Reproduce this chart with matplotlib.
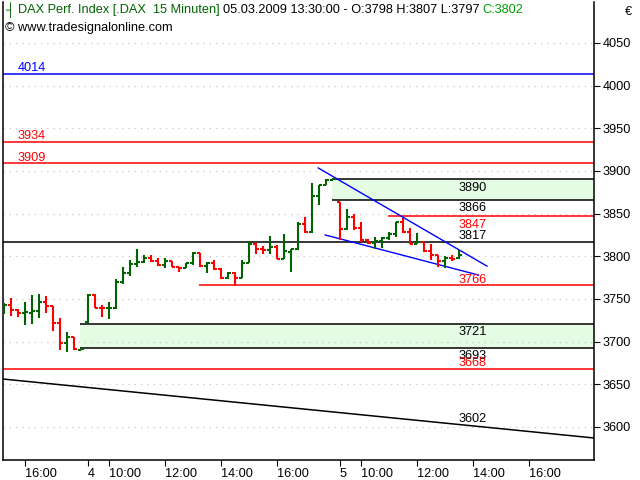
import matplotlib.pyplot as plt
import numpy as np

plt.rcParams['font.family'] = ['Liberation Sans', 'DejaVu Sans']

#----------------------------------------------------
# DAX 15 minute bars, 03.03 15:15 -> 05.03 13:30
#----------------------------------------------------
opens  = [3739, 3743, 3737, 3733, 3733, 3736, 3747, 3742, 3722, 3698, 3705, 3690.5,
          3723, 3755, 3740, 3739, 3740, 3770, 3780, 3791, 3793, 3798, 3794, 3790,
          3795, 3788, 3786, 3792, 3804, 3789, 3792, 3785, 3774, 3780, 3775, 3792,
          3815, 3809, 3807, 3811, 3797, 3805, 3808, 3838, 3829, 3871, 3883, 3889,
          3864, 3832, 3846, 3833, 3819, 3816, 3818, 3821, 3826, 3840, 3829, 3815,
          3817, 3806, 3801, 3794, 3798, 3798]
highs  = [3745, 3751, 3738, 3746, 3755, 3756, 3754, 3742, 3728, 3711, 3705, 3691,
          3756, 3756, 3743, 3747, 3773, 3788, 3796, 3809, 3801, 3801, 3798, 3798,
          3795, 3788, 3792, 3805, 3804, 3793, 3796, 3786, 3782, 3782, 3796, 3818,
          3816, 3812, 3824, 3813, 3826, 3808, 3840, 3846, 3886, 3884, 3890, 3890,
          3864, 3855, 3850, 3840, 3820, 3823, 3823, 3829, 3840, 3845, 3833, 3827,
          3817, 3814, 3802, 3800, 3802, 3807]
lows   = [3732, 3730, 3729, 3720, 3721, 3728, 3733, 3712, 3690, 3688, 3690, 3690,
          3722, 3739, 3729, 3727, 3738, 3767, 3777, 3787, 3792, 3793, 3789, 3786,
          3787, 3782, 3786, 3790, 3788, 3780, 3784, 3773, 3773, 3765, 3775, 3792,
          3803, 3803, 3803, 3797, 3797, 3782, 3807, 3827, 3827, 3860, 3883, 3889,
          3819, 3831, 3831, 3817, 3815, 3809, 3810, 3819, 3823, 3827, 3814, 3814,
          3805, 3796, 3788, 3786, 3795, 3797]
closes = [3743, 3737, 3733, 3735, 3736, 3747, 3742, 3722, 3698, 3705, 3691, 3691,
          3755, 3740, 3739, 3740, 3770, 3780, 3791, 3793, 3798, 3794, 3790, 3795,
          3788, 3786, 3792, 3804, 3789, 3792, 3785, 3774, 3780, 3775, 3792, 3815,
          3809, 3807, 3811, 3797, 3806, 3808, 3838, 3829, 3871, 3883, 3889, 3890,
          3832, 3846, 3833, 3819, 3816, 3818, 3821, 3826, 3840, 3829, 3815, 3817,
          3806, 3801, 3794, 3798, 3797, 3802]

# trading days shown and the first bar (09:15) index of each day
day_names  = ['3', '4', '5']
day_starts = [-24, 12, 48]

# drawn levels: value, colour, first bar (None = whole chart)
level_vals   = [4014, 3934, 3909, 3847, 3817, 3766, 3668]
level_colors = ['#0000ff', '#ff0000', '#ff0000', '#ff0000', 'black', '#ff0000', '#ff0000']
level_start  = [None, None, None, 54.8, None, 27.9, None]
level_side   = ['left', 'left', 'left', 'right', 'right', 'right', 'right']
level_above  = [True, True, True, False, True, True, True]

# green zones: upper, lower, first bar
zone_top   = [3890, 3721]
zone_bot   = [3866, 3693]
zone_start = [46.8, 10.9]

# trend lines: (bar, price) pairs
down_trend  = ([-0.14, 84.29], [3656.2, 3587.1])
wedge_upper = ([44.9, 69.0], [3903.5, 3788.5])
wedge_lower = ([45.9, 67.8], [3825.0, 3778.0])

#----------------------------------------------------
# Figure
#----------------------------------------------------
fig = plt.figure(figsize=(6.4, 4.8), dpi=100)
ax = fig.add_axes([3/640, 20/480, 591/640, 458/480])
ax.set_xlim(-0.14, 84.29)
ax.set_ylim(3561.3, 4098.0)

green = '#006400'
red = '#ff0000'
fill_c = '#e4fbe4'
fs = 9.2

# zones
for top, bot, st in zip(zone_top, zone_bot, zone_start):
    ax.fill_between([st, 84.29], bot, top, color=fill_c, lw=0, zorder=1)
    ax.hlines([top, bot], st, 84.29, color='black', lw=1.1, zorder=2)
    ax.annotate(str(top), (64.9, top), xytext=(0, -6), textcoords='offset points',
                fontsize=fs, va='center', ha='left', color='black', zorder=6)
    ax.annotate(str(bot), (64.9, bot), xytext=(0, -6), textcoords='offset points',
                fontsize=fs, va='center', ha='left', color='black', zorder=6)

# levels
for v, c, st, side, above in zip(level_vals, level_colors, level_start, level_side, level_above):
    x0 = -0.14 if st is None else st
    ax.hlines(v, x0, 84.29, color=c, lw=1.1, zorder=2)
    lx = 2.0 if side == 'left' else 64.9
    dy = 4 if above else -6
    ax.annotate(str(v), (lx, v), xytext=(0, dy), textcoords='offset points',
                fontsize=fs, va='center', ha='left', color=c, zorder=6)

# trend lines
ax.plot(*down_trend, color='black', lw=1.1, zorder=2)
ax.plot(*wedge_upper, color='#0000ff', lw=1.0, zorder=4)
ax.plot(*wedge_lower, color='#0000ff', lw=1.0, zorder=4)
ax.annotate('3602', (64.9, np.interp(64.9, *down_trend)), xytext=(0, 4),
            textcoords='offset points', fontsize=fs, va='center', ha='left', color='black')

# OHLC bars
idx = np.arange(len(closes))
cols = [green if c >= o else red for o, c in zip(opens, closes)]
ax.vlines(idx, lows, highs, colors=cols, lw=1.5, zorder=5)
ax.hlines(opens, idx - 0.45, idx, colors=cols, lw=1.5, zorder=5)
ax.hlines(closes, idx, idx + 0.45, colors=cols, lw=1.5, zorder=5)

# axes, ticks, grid
ax.yaxis.tick_right()
ax.set_yticks(np.arange(3600, 4051, 50))
ax.grid(axis='y', color='#c8c8c8', linestyle=(0, (1, 4)), lw=0.9, zorder=0)
ax.tick_params(axis='y', length=4, width=0.8, pad=2, labelsize=fs, colors='black')

tick_pos = []
tick_lab = []
for name, st in zip(day_names, day_starts):
    if st >= 0:
        tick_pos.append(st)
        tick_lab.append(name)
    for hh in [10, 12, 14, 16]:
        p = st + (hh * 60 - 555) / 15
        if -0.14 <= p <= 84.29 and not (name == '3' and hh < 16):
            tick_pos.append(p)
            tick_lab.append('%d:00' % hh)
ax.set_xticks(tick_pos)
ax.set_xticklabels(tick_lab, ha='left')
ax.tick_params(axis='x', length=4, width=0.8, pad=2, labelsize=fs)

for s in ['left', 'right', 'bottom']:
    ax.spines[s].set_linewidth(1.1)
ax.spines['top'].set_visible(False)

#----------------------------------------------------
# Header text (multi-coloured)
#----------------------------------------------------
fig.canvas.draw()
rend = fig.canvas.get_renderer()
def colour_text(x, y, parts):
    for s, c in parts:
        t = fig.text(x, y, s, color=c, fontsize=fs, va='center', ha='left')
        bb = t.get_window_extent(renderer=rend)
        x = fig.transFigure.inverted().transform((bb.x1, bb.y0))[0]

colour_text(5/640, 1 - 10/480, [('\u2524 ', green),
                                ('DAX Perf. Index [.DAX  15 Minuten] ', green),
                                ('05.03.2009 13:30:00 - O:3798 H:3807 L:3797 ', 'black'),
                                ('C:3802', '#00a000')])
fig.text(5/640, 1 - 28/480, '\u00a9 www.tradesignalonline.com', fontsize=fs,
         va='center', ha='left', color='black')
fig.text(625/640, 1 - 12/480, '\u20ac', fontsize=fs, va='center', ha='left')

fig.savefig('out.png', dpi=100)
